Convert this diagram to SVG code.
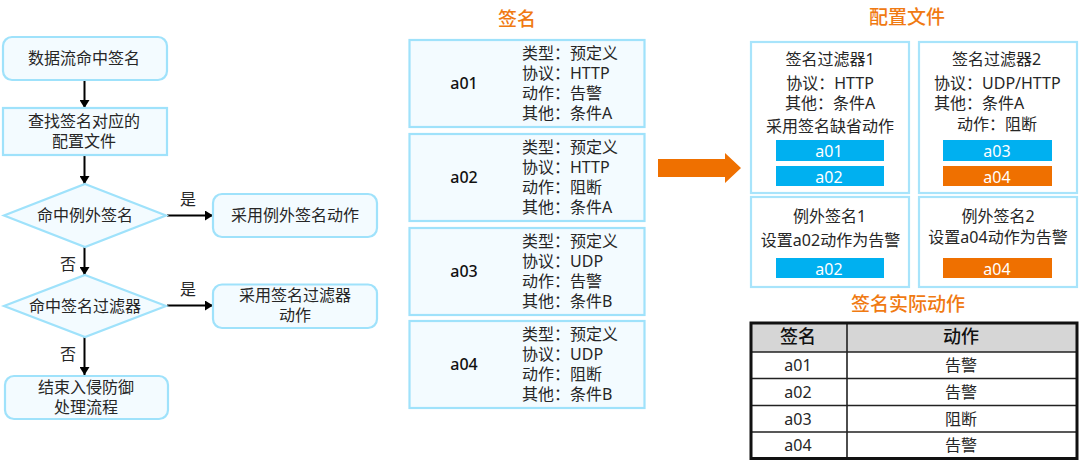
<svg xmlns="http://www.w3.org/2000/svg" width="1080" height="465" viewBox="0 0 1080 465">
<defs>
<marker id="ah" markerUnits="userSpaceOnUse" markerWidth="9" markerHeight="10" refX="8" refY="5" orient="auto"><path d="M0 0L8 5L0 10Z" fill="#000"/></marker>
</defs>
<style>
text{font-family:"Noto Sans","Noto Sans CJK SC",sans-serif;font-size:16px;fill:#262626;text-anchor:middle}
.n{fill:#f3fbff;stroke:#9fe2fb;stroke-width:2.2}
.w{fill:#fff;stroke:#a8e4fb;stroke-width:2.2}
.l{text-anchor:start}
.id{font-weight:500;fill:#111}
.h{fill:#f07a12;font-size:19px;font-weight:500}
.th{font-size:18px;font-weight:500;fill:#111}
.bb{fill:#00b0f0}.ob{fill:#ef7000}
.bt{fill:#fff}
.c{stroke:#000;stroke-width:2;fill:none;marker-end:url(#ah)}
.t{stroke:#222;stroke-width:1.6;fill:none}
</style>
<rect width="1080" height="465" fill="#fff"/>
<g id="connectors">
<path class="c" d="M84.500 80V108"/>
<path class="c" d="M84.500 155V184"/>
<path class="c" d="M84.500 247V275"/>
<path class="c" d="M84.500 337V375"/>
<path class="c" d="M167 215.500H213"/>
<path class="c" d="M167 305.500H213"/>
<path d="M658 159H725V153L741 168L725 183V177H658Z" fill="#ef7000"/>
</g>
<g id="n1"><rect class="n" x="3" y="37" width="164" height="43" rx="9"/><text x="84" y="64">数据流命中签名</text></g>
<g id="n2"><rect class="n" x="3" y="108" width="164" height="47"/><text x="84" y="127">查找签名对应的</text><text x="84" y="147">配置文件</text></g>
<g id="n3"><path class="n" d="M85 184L166 215.500L85 247L4 215.500Z"/><text x="85" y="221">命中例外签名</text></g>
<g id="n4"><rect class="n" x="213" y="194" width="164" height="43" rx="9"/><text x="295" y="221">采用例外签名动作</text></g>
<g id="n5"><path class="n" d="M85 275L166 306L85 337L4 306Z"/><text x="85" y="312">命中签名过滤器</text></g>
<g id="n6"><rect class="n" x="213" y="284.500" width="164" height="43.500" rx="9"/><text x="295" y="301">采用签名过滤器</text><text x="295" y="321">动作</text></g>
<g id="n7"><rect class="n" x="5" y="376" width="163" height="43" rx="9"/><text x="86" y="393">结束入侵防御</text><text x="86" y="413">处理流程</text></g>
<g id="labels"><text x="188" y="205">是</text><text x="188" y="295">是</text><text x="68" y="270">否</text><text x="68" y="360">否</text></g>
<text class="h" x="517" y="26">签名</text>
<g id="a01"><rect class="n" x="409.500" y="40" width="235" height="87"/><text class="id" x="464" y="89">a01</text><text class="l" x="522" y="58.500">类型：预定义</text><text class="l" x="522" y="78.500">协议：HTTP</text><text class="l" x="522" y="98.500">动作：告警</text><text class="l" x="522" y="118.500">其他：条件A</text></g>
<g id="a02"><rect class="n" x="409.500" y="134" width="235" height="87"/><text class="id" x="464" y="183">a02</text><text class="l" x="522" y="152.500">类型：预定义</text><text class="l" x="522" y="172.500">协议：HTTP</text><text class="l" x="522" y="192.500">动作：阻断</text><text class="l" x="522" y="212.500">其他：条件A</text></g>
<g id="a03"><rect class="n" x="409.500" y="228" width="235" height="87"/><text class="id" x="464" y="277">a03</text><text class="l" x="522" y="246.500">类型：预定义</text><text class="l" x="522" y="266.500">协议：UDP</text><text class="l" x="522" y="286.500">动作：告警</text><text class="l" x="522" y="306.500">其他：条件B</text></g>
<g id="a04"><rect class="n" x="409.500" y="321" width="235" height="87"/><text class="id" x="464" y="370">a04</text><text class="l" x="522" y="339.500">类型：预定义</text><text class="l" x="522" y="359.500">协议：UDP</text><text class="l" x="522" y="379.500">动作：阻断</text><text class="l" x="522" y="399.500">其他：条件B</text></g>
<text class="h" x="907" y="24">配置文件</text>
<g id="f1"><rect class="w" x="751" y="42" width="158" height="151"/><text x="830" y="65">签名过滤器1</text><text x="830" y="89">协议：HTTP</text><text x="830" y="109">其他：条件A</text><text x="830" y="132">采用签名缺省动作</text><rect class="bb" x="776" y="140" width="108" height="21"/><text class="bt" x="829" y="157">a01</text><rect class="bb" x="776" y="166" width="108" height="20"/><text class="bt" x="829" y="183">a02</text></g>
<g id="f2"><rect class="w" x="919" y="42" width="158" height="151"/><text x="996.500" y="65">签名过滤器2</text><text class="l" x="934" y="89">协议：UDP/HTTP</text><text class="l" x="934" y="109">其他：条件A</text><text x="997" y="130">动作：阻断</text><rect class="bb" x="943" y="140" width="109" height="21"/><text class="bt" x="997" y="157">a03</text><rect class="ob" x="943" y="166" width="109" height="20"/><text class="bt" x="997" y="183">a04</text></g>
<g id="e1"><rect class="w" x="751" y="197" width="158" height="90"/><text x="829.500" y="222">例外签名1</text><text x="830.500" y="246">设置a02动作为告警</text><rect class="bb" x="776" y="258" width="108" height="20"/><text class="bt" x="829" y="275">a02</text></g>
<g id="e2"><rect class="w" x="919" y="197" width="158" height="90"/><text x="998" y="222">例外签名2</text><text x="998" y="243">设置a04动作为告警</text><rect class="ob" x="943" y="258" width="109" height="20"/><text class="bt" x="997" y="275">a04</text></g>
<text class="h" x="908" y="311">签名实际动作</text>
<g id="table">
<rect x="751" y="323" width="326" height="29" fill="#d6d6d6"/>
<path class="t" d="M751 352H1077M751 378.500H1077M751 405.500H1077M751 432H1077M847 323V458"/>
<rect x="751" y="323" width="326" height="135.500" fill="none" stroke="#111" stroke-width="3"/>
<text class="th" x="798" y="343">签名</text><text class="th" x="961" y="343">动作</text>
<text x="798" y="371">a01</text><text x="961" y="371">告警</text>
<text x="798" y="398">a02</text><text x="961" y="398">告警</text>
<text x="798" y="425">a03</text><text x="961" y="425">阻断</text>
<text x="798" y="451">a04</text><text x="961" y="451">告警</text>
</g>
</svg>
